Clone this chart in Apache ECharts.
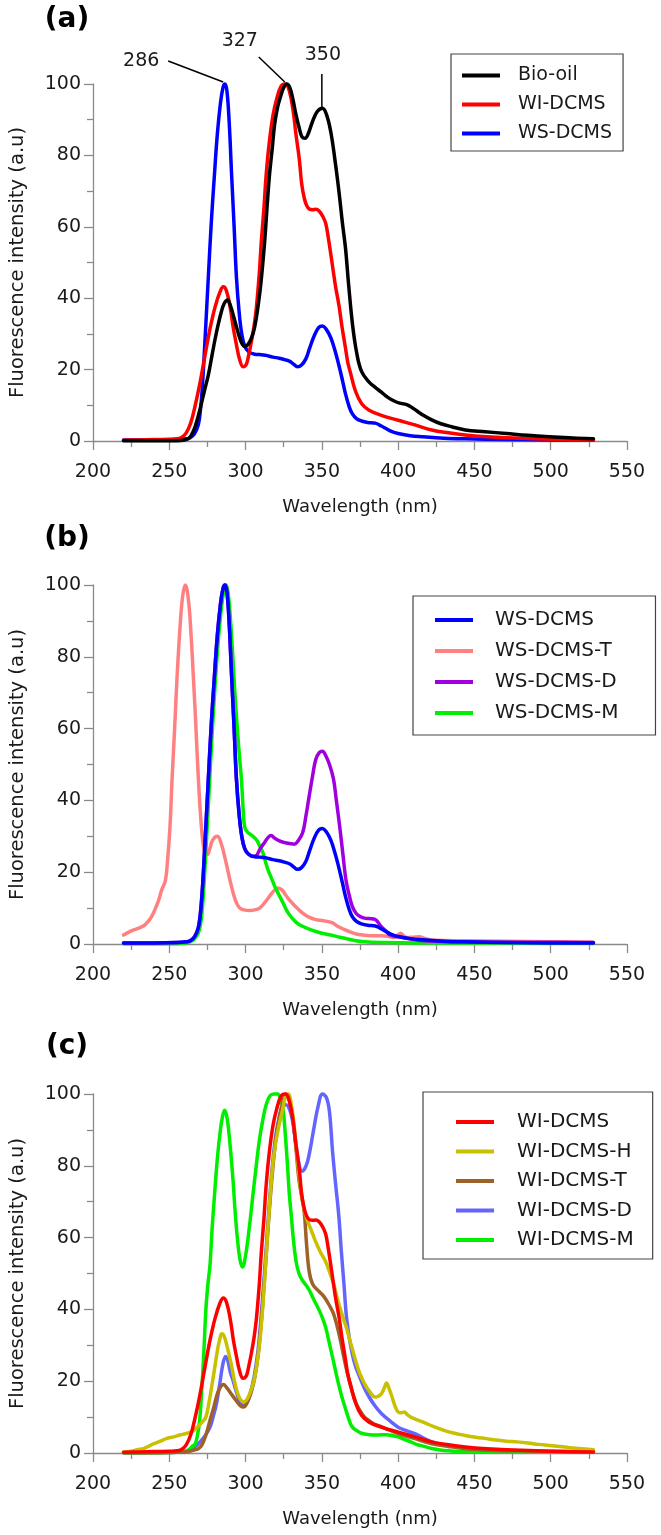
<!DOCTYPE html>
<html><head><meta charset="utf-8">
<script src="https://cdn.jsdelivr.net/npm/echarts@6/dist/echarts.min.js"></script>
<style>html,body{margin:0;padding:0;background:#fff}#c{width:661px;height:1535px}</style>
</head><body><div id="c"></div>
<script>
// ---------- data: [wavelength nm, fluorescence intensity a.u] ----------
const xTicks = [200, 250, 300, 350, 400, 450, 500, 550];
const yTicks = [0, 20, 40, 60, 80, 100];
const panelLabels = ['(a)', '(b)', '(c)'];
const peakLabels = ['286', '327', '350'];
const peakPoints = [[286, 100], [327, 100], [350, 93]];

const BIO_OIL = [[220,0.1],[240,0.1],[255,0.1],[260,0.3],[263,0.8],[266,3],[268,5.5],[270.2,9],[273,14],[275.6,18.5],[278,24],[280,28.5],[282,32.5],[284,36],[286,38.5],[288.2,39.5],[290,38],[291.9,35.3],[294,32],[296.2,28.8],[298,27],[299.5,26.5],[301.5,27],[303.8,28.8],[306,32],[308,37.2],[310,44],[312.5,55.8],[314,65],[315.7,74.6],[317.5,82],[319,88.5],[321,93.5],[323.3,97],[325,99],[327,100],[329,99],[330.9,96],[333,91.5],[335.2,87.6],[337,85.2],[339,84.8],[341,86],[343.9,89.5],[347,92.3],[350.4,93.2],[353,91.5],[355.8,86.7],[358.5,79],[361.2,69.9],[363.5,61],[365.5,54],[367.5,44],[370,33],[372.7,25],[376,19.5],[381,16.5],[385,15],[389,13.7],[393,12.3],[397.4,11.2],[401,10.6],[405.6,10.2],[409.7,9.2],[413,8.2],[416.5,7.2],[422,5.9],[427.5,4.9],[435,4],[444,3.1],[457,2.6],[471,2.1],[485,1.6],[499,1.2],[512,0.9],[528,0.6]];

const WI_DCMS = [[220,0.2],[230,0.3],[240,0.4],[250,0.5],[255,0.6],[258,1],[261,2.2],[264,5],[267,10],[270,16],[273,23],[276,30],[278,34],[280,37.5],[283,41.5],[285.4,43.2],[287.5,42],[290,37.2],[292,31.5],[294,27],[296,23],[298.4,20.8],[300.5,21.5],[302,24],[303.8,27.8],[305.5,32],[307,37],[309,47],[310.3,55.8],[312,65],[313.5,74.6],[315.5,83.5],[318,91.3],[320.5,96],[323.3,99.4],[325.8,100],[328,99],[330.9,93.3],[333,86],[335.2,79],[336.8,72],[338.5,68],[340,66],[341.7,65],[344,64.8],[346,64.9],[348.2,64.4],[350.5,63],[352.5,61],[354.2,57],[355.8,52.5],[357.5,47.5],[359,43.2],[361.2,38],[363.2,32],[365.5,26],[367,22],[368.8,19],[372,14],[376,10.5],[381,8.6],[389,7.2],[400,5.8],[411,4.5],[422,3.1],[433,2.3],[444,1.7],[458,1.2],[471,0.9],[500,0.5],[528,0.3]];

const WS_DCMS = [[220,0.3],[240,0.3],[255,0.4],[261,0.6],[263.7,0.9],[266.5,2],[269,4.5],[270.5,9],[271.8,16],[273.5,29],[275.6,46],[277.5,61],[279.5,74],[281.5,86],[283.5,94.5],[285.2,99],[286.5,100],[287.8,98],[289.3,89],[290.8,75],[292.5,60],[294,46],[295.8,36],[297.5,30],[299.5,26.5],[302,25],[306,24.3],[309.2,24.2],[313,24],[317.9,23.5],[322,23.2],[325.5,22.8],[329,22.3],[331.5,21.5],[334,20.8],[336.5,21.2],[339.5,23],[342,26],[345,29.5],[348,31.8],[350.4,32.2],[353,31.2],[355.8,29],[358.5,25.5],[361,21.5],[363.5,17],[365.5,13.2],[368,9.5],[370,7.6],[372.7,6.3],[376,5.6],[380,5.2],[385,5],[389,4.2],[392,3.5],[396,2.6],[400,2.1],[408,1.5],[416,1.2],[430,0.8],[444,0.6],[470,0.4],[500,0.3],[528,0.3]];

const WS_DCMS_T = [[220,2.5],[224.7,3.6],[229,4.3],[233,5],[236,6.2],[238.5,7.7],[241,10],[243.1,12.3],[245,15],[247.5,17.8],[249,24],[250.5,33],[251.8,45.7],[253.5,60],[255,73.5],[257,88],[258.8,97],[260.5,100],[262.5,96],[264,88],[265.9,73.5],[267.5,60],[269.1,45.7],[270.8,34],[272.4,27.2],[273.8,25.2],[275,24.9],[276.5,26.5],[278.5,29],[281.5,30],[284,28],[286.5,24],[289.7,17.9],[292,14],[294,11.5],[296.2,10],[299,9.5],[302.7,9.3],[306,9.5],[309.2,10],[312.5,11.5],[315.7,13.3],[318.5,14.8],[321.1,15.6],[324,15],[326.5,13.5],[328.7,12.3],[333,10.3],[337.4,8.6],[341.5,7.5],[346,6.8],[351,6.5],[357,5.9],[360,5],[364.5,4.1],[368.5,3.4],[372.7,2.8],[377,2.5],[381,2.3],[389,2.3],[394,2.1],[397.4,1.8],[399.5,2.4],[401.5,3],[403.5,2.3],[405.6,1.8],[410,1.9],[413.8,2],[418,1.5],[422,1.1],[444,0.9],[470,0.8],[499,0.65],[528,0.5]];

const WS_DCMS_D = [[220,0.3],[240,0.3],[255,0.4],[261,0.6],[263.7,0.9],[266.5,2],[269,4.5],[270.5,9],[271.8,16],[273.5,29],[275.6,46],[277.5,61],[279.5,74],[281.5,86],[283.5,94.5],[285.2,99],[286.5,100],[287.8,98],[289.3,89],[290.8,75],[292.5,60],[294,46],[295.8,36],[297.5,30],[299.5,26.5],[302,25],[304.5,24.4],[307,24.6],[309.5,26.5],[312.5,28.3],[314.8,29.7],[316.8,30.2],[319,29.5],[322.2,28.7],[326,28.2],[329,28],[332,27.8],[334.5,28.8],[337.4,31],[339.5,35.5],[341.7,41.2],[344,47],[346,51.4],[348.3,53.3],[350.4,53.7],[352.5,52.5],[355,50],[357.6,46],[359.5,40],[361.7,32.7],[363.8,25],[365.8,17.8],[368,13.5],[370,10.4],[372.5,8.5],[375.4,7.6],[378,7.2],[381,7.1],[385,6.8],[389,4.8],[392,3.6],[394.6,2.5],[400,2],[405.6,1.6],[416.5,0.9],[440,0.6],[470,0.5],[500,0.5],[528,0.4]];

const WS_DCMS_M = [[220,0.1],[240,0.1],[255,0.1],[261,0.3],[263,0.5],[266,1.2],[269,3],[271,7],[272.5,15],[274,26],[276,42],[278,58],[280,72],[282,84],[284,93],[285.8,98.5],[287.2,100],[288.5,98],[290,91],[291.5,81],[293,70],[295.3,56],[297.3,45.7],[298.5,37],[299.5,32.5],[301.6,31],[304,30.3],[307,29.1],[309,27.5],[311.4,25.4],[313,23],[314.6,20.8],[317,18.3],[319,16.2],[321.5,14],[324.4,11.6],[328,8.6],[333,6.1],[338,4.8],[343.9,3.8],[350,3],[357,2.4],[361.7,1.9],[366,1.5],[370,1.1],[378,0.6],[390,0.4],[420,0.3],[528,0.2]];

const WI_DCMS_H = [[220,0.2],[225,0.5],[229,0.9],[233.5,1.3],[237,2],[240,2.6],[244.2,3.3],[248,4],[252.9,4.5],[257,5],[261.5,5.5],[264,5.8],[266,6.2],[269,7.5],[272,8.8],[274,10],[276,14],[278,19],[279.5,23],[281.5,28.5],[283,31.5],[284.4,33.2],[286,32.5],[288,29.5],[290.5,24.9],[292.5,20.5],[294.5,17],[296.5,15],[298.7,14.2],[301,15],[303,16.8],[305.5,20.2],[307.5,25],[309.6,32.3],[311.5,42],[313.5,55],[315.5,68],[317.9,80.6],[320,87],[322,91.5],[324,95],[326,99],[328,100],[330,97],[331.6,92],[333.5,84],[335.7,75],[337.8,69],[339.8,65.6],[341.7,63.5],[344,61],[346,58.8],[349,56],[352.5,53.3],[355,50.5],[357.9,46.8],[360.5,42.5],[363.3,38.5],[366,35],[368.6,31],[370.6,28],[372.7,24.9],[375,22],[378,19.3],[381,17.3],[385,15.6],[387,15.8],[389,16.5],[390.8,18],[392.4,19.5],[394,18],[396,15.6],[398,13],[400,11.4],[402,11.2],[404,11.4],[406,10.7],[408.3,10],[412,9.3],[416.5,8.6],[423,7.4],[430,6.3],[437,5.5],[444,4.9],[451,4.4],[457.7,4],[464,3.6],[471,3.3],[478,3.1],[485,2.8],[492,2.4],[499,2.1],[506,1.8],[512.5,1.5],[520,1.2],[528,0.9]];

const WI_DCMS_T = [[220,0.1],[240,0.1],[255,0.2],[262,0.4],[266,0.8],[269,1.2],[271.3,2.2],[274,5],[276.7,9.1],[279,12.5],[280.9,15.6],[283,18],[285.5,19.1],[288,18],[290.5,16.5],[294,14.5],[296.5,13.2],[298.7,12.8],[301,14],[302.5,15.5],[304,17.4],[306,21],[308.3,27.6],[310,35],[312,46],[314,58],[316,70],[318,80],[320,88],[322,93],[324,97],[326.5,100],[329,98],[331,93],[333,85],[335,76],[337,71],[338.5,67],[340,58],[341.7,50.6],[344,47],[348.2,45],[351.5,43.5],[354.7,41.3],[357.9,38.5],[361.7,32.3],[364.5,26.5],[367.3,21.2],[370,17],[372.7,13.7],[375.4,11.5],[378,10],[381,9],[383.6,8.2],[388,7.5],[391.8,6.8],[396,6.1],[400,5.4],[405,4.7],[411,4],[416,3.3],[422,2.6],[433,1.8],[444,1.2],[460,0.8],[480,0.6],[528,0.4]];

const WI_DCMS_D = [[220,0.1],[240,0.1],[255,0.2],[262,0.5],[266,1.5],[270,3],[273,4.5],[276.7,7.2],[279,10.5],[280.9,13.7],[283,19],[285,24.5],[286.9,26.9],[288.5,25.5],[290,22.5],[291.8,20.2],[294,17],[296.5,14],[298.7,13.2],[301,14.2],[303,16.5],[305.5,21],[308,28],[310,37],[312,48],[314,60],[316,72],[318,82],[320,89],[322,93.5],[324,96.5],[326.5,97],[329,95.5],[331,92],[333,86],[335,80.5],[337,78.5],[338.5,79],[340.5,81],[342.5,85],[345,91],[347.5,96.5],[350.4,100],[353,99],[355,95],[357,84],[359,75],[361.2,65.6],[362.8,56],[364.5,47],[366,38.5],[368,32],[370,27.5],[371.8,24.5],[373.5,22.5],[375.4,20.5],[378,18],[381,15.6],[385,13],[389,11],[395,8.8],[400,7.2],[405,6.3],[411,5.4],[416,4.3],[422,3.1],[430,2.3],[438.5,1.7],[448,1.1],[457.7,0.7],[480,0.4],[528,0.3]];

const WI_DCMS_M = [[220,0.1],[240,0.1],[255,0.2],[260,0.5],[263,1],[265,1.8],[267,2.6],[268.5,5],[269.9,9.1],[271.2,17],[272.6,27.6],[274,40],[275.3,47],[276.7,52.5],[278,62],[279.5,71],[281.5,82],[283.5,90],[285,94],[286.3,95.5],[288,93],[289.8,86],[291.8,75.9],[293.2,67],[294.6,60],[296.3,54],[298,51.8],[300,55],[302.5,63],[304.9,72.2],[307,80],[309,87],[311.4,93],[313.5,97],[316,99.5],[318.5,100],[321,100],[323,98.5],[324.5,96],[326,89],[327.5,80],[328.7,72],[330,66],[331,61],[333,53.6],[335,50],[337.4,48],[339.5,46.8],[341.7,45.4],[345,42.5],[348.2,39.8],[350.5,37.5],[352.5,35],[355,30.4],[357.6,25.5],[360.4,20.2],[363,15.8],[365.8,11.9],[368,9],[370,7.2],[372.7,6.3],[376,5.5],[381,5.1],[386,5],[392,5.1],[396,4.9],[400,4.5],[404,3.8],[408.3,3.1],[412,2.4],[416.5,1.9],[423,1.2],[430,0.7],[445,0.4],[470,0.3],[528,0.2]];

// ---------- presentation ----------
const FONT = 'DejaVu Sans';
const AX = '#8a8a8a';
const TXT = '#1a1a1a';
const grids = [
  {left: 89, top: 84, width: 538, height: 357},
  {left: 89, top: 585, width: 538, height: 359},
  {left: 89, top: 1094, width: 538, height: 359}
];

function xAx(gi) {
  return {type: 'value', gridIndex: gi, min: xTicks[0], max: xTicks[xTicks.length-1], interval: 50,
    name: 'Wavelength (nm)', nameLocation: 'middle', nameGap: 57,
    nameTextStyle: {fontSize: 18, color: TXT, fontFamily: FONT},
    axisLine: {show: true, onZero: false, lineStyle: {color: AX, width: 1.3}},
    axisTick: {show: true, length: 9, lineStyle: {color: AX, width: 1.3}},
    minorTick: {show: true, splitNumber: 2, length: 6, lineStyle: {color: AX, width: 1.3}},
    splitLine: {show: false},
    axisLabel: {fontSize: 19, color: TXT, margin: 22, fontFamily: FONT}};
}
function yAx(gi) {
  return {type: 'value', gridIndex: gi, min: yTicks[0], max: yTicks[yTicks.length-1], interval: 20,
    name: 'Fluorescence intensity (a.u)', nameLocation: 'middle', nameGap: 65, nameRotate: 90,
    nameTextStyle: {fontSize: 19.5, color: TXT, fontFamily: FONT},
    axisLine: {show: true, onZero: false, lineStyle: {color: AX, width: 1.3}},
    axisTick: {show: true, length: 9, lineStyle: {color: AX, width: 1.3}},
    minorTick: {show: true, splitNumber: 2, length: 6, lineStyle: {color: AX, width: 1.3}},
    splitLine: {show: false},
    axisLabel: {fontSize: 19, color: TXT, margin: 12, fontFamily: FONT}};
}
function ser(name, data, color, gi, z) {
  return {type: 'line', name: name, data: data, xAxisIndex: gi, yAxisIndex: gi,
    showSymbol: false, symbol: 'none', smooth: 0.4, clip: false, z: z,
    lineStyle: {color: color, width: 3.5, join: 'round', cap: 'round'}, itemStyle: {color: color}, animation: false};
}
function leg(names, left, top, pad, fs, gap, textPad) {
  return {data: names, orient: 'vertical', left: left, top: top, padding: pad, itemGap: gap,
    icon: 'rect', itemWidth: 38, itemHeight: 4, selectedMode: false,
    borderColor: '#444', borderWidth: 1.2, backgroundColor: '#fff',
    textStyle: {fontSize: fs, lineHeight: fs, color: TXT, fontFamily: FONT, padding: [0, 0, 0, textPad]}};
}

const chart = echarts.init(document.getElementById('c'), null, {renderer: 'canvas'});
const option = {
  animation: false,
  backgroundColor: '#fff',
  grid: grids,
  xAxis: [xAx(0), xAx(1), xAx(2)],
  yAxis: [yAx(0), yAx(1), yAx(2)],
  legend: [
    leg(['Bio-oil', 'WI-DCMS', 'WS-DCMS'], 451, 54, [12, 11, 8, 11], 19, 10, 13),
    leg(['WS-DCMS', 'WS-DCMS-T', 'WS-DCMS-D', 'WS-DCMS-M'], 413, 596, [14, 37, 12, 22], 20, 11, 17),
    leg(['WI-DCMS', 'WI-DCMS-H', 'WI-DCMS-T', 'WI-DCMS-D', 'WI-DCMS-M'], 423, 1092, [20, 19, 9, 33], 20, 9.5, 18)
  ],
  series: [
    ser('WS-DCMS', WS_DCMS, '#0000ff', 0, 2),
    ser('WI-DCMS', WI_DCMS, '#ff0000', 0, 3),
    ser('Bio-oil', BIO_OIL, '#000000', 0, 4),

    ser('WS-DCMS-T', WS_DCMS_T, '#ff8080', 1, 2),
    ser('WS-DCMS-M', WS_DCMS_M, '#00ee00', 1, 3),
    ser('WS-DCMS-D', WS_DCMS_D, '#a000e0', 1, 4),
    ser('WS-DCMS', WS_DCMS, '#0000ff', 1, 5),

    ser('WI-DCMS-D', WI_DCMS_D, '#6464ff', 2, 2),
    ser('WI-DCMS-M', WI_DCMS_M, '#00ee00', 2, 3),
    ser('WI-DCMS-T', WI_DCMS_T, '#9c6228', 2, 4),
    ser('WI-DCMS-H', WI_DCMS_H, '#c8c000', 2, 5),
    ser('WI-DCMS', WI_DCMS, '#ff0000', 2, 6)
  ]
};
chart.setOption(option);

// panel letters and peak annotations (positions derived from axes)
const graphics = [];
const letterY = [20, 539, 1047];
panelLabels.forEach(function (t, i) {
  graphics.push({type: 'text', x: 67, y: letterY[i], style: {text: t, fontSize: 28, fontWeight: 'bold',
    fontFamily: FONT, fill: '#000', align: 'center', verticalAlign: 'middle'}});
});
const lineFrom = [[-56, -23], [-28, -27], [0, -35]];
const lineTo = [[-1, -2], [-2, -2], [0, -2]];
const textAt = [[-83, -23], [-47, -43], [1, -54]];
peakPoints.forEach(function (p, i) {
  const px = chart.convertToPixel({xAxisIndex: 0, yAxisIndex: 0}, p);
  graphics.push({type: 'line', shape: {x1: px[0] + lineFrom[i][0], y1: px[1] + lineFrom[i][1],
    x2: px[0] + lineTo[i][0], y2: px[1] + lineTo[i][1]}, style: {stroke: '#000', lineWidth: 1.5}, z: 10});
  graphics.push({type: 'text', x: px[0] + textAt[i][0], y: px[1] + textAt[i][1], z: 10,
    style: {text: peakLabels[i], fontSize: 19, fontFamily: FONT, fill: TXT, align: 'center', verticalAlign: 'middle'}});
});
chart.setOption({graphic: graphics});
</script></body></html>
